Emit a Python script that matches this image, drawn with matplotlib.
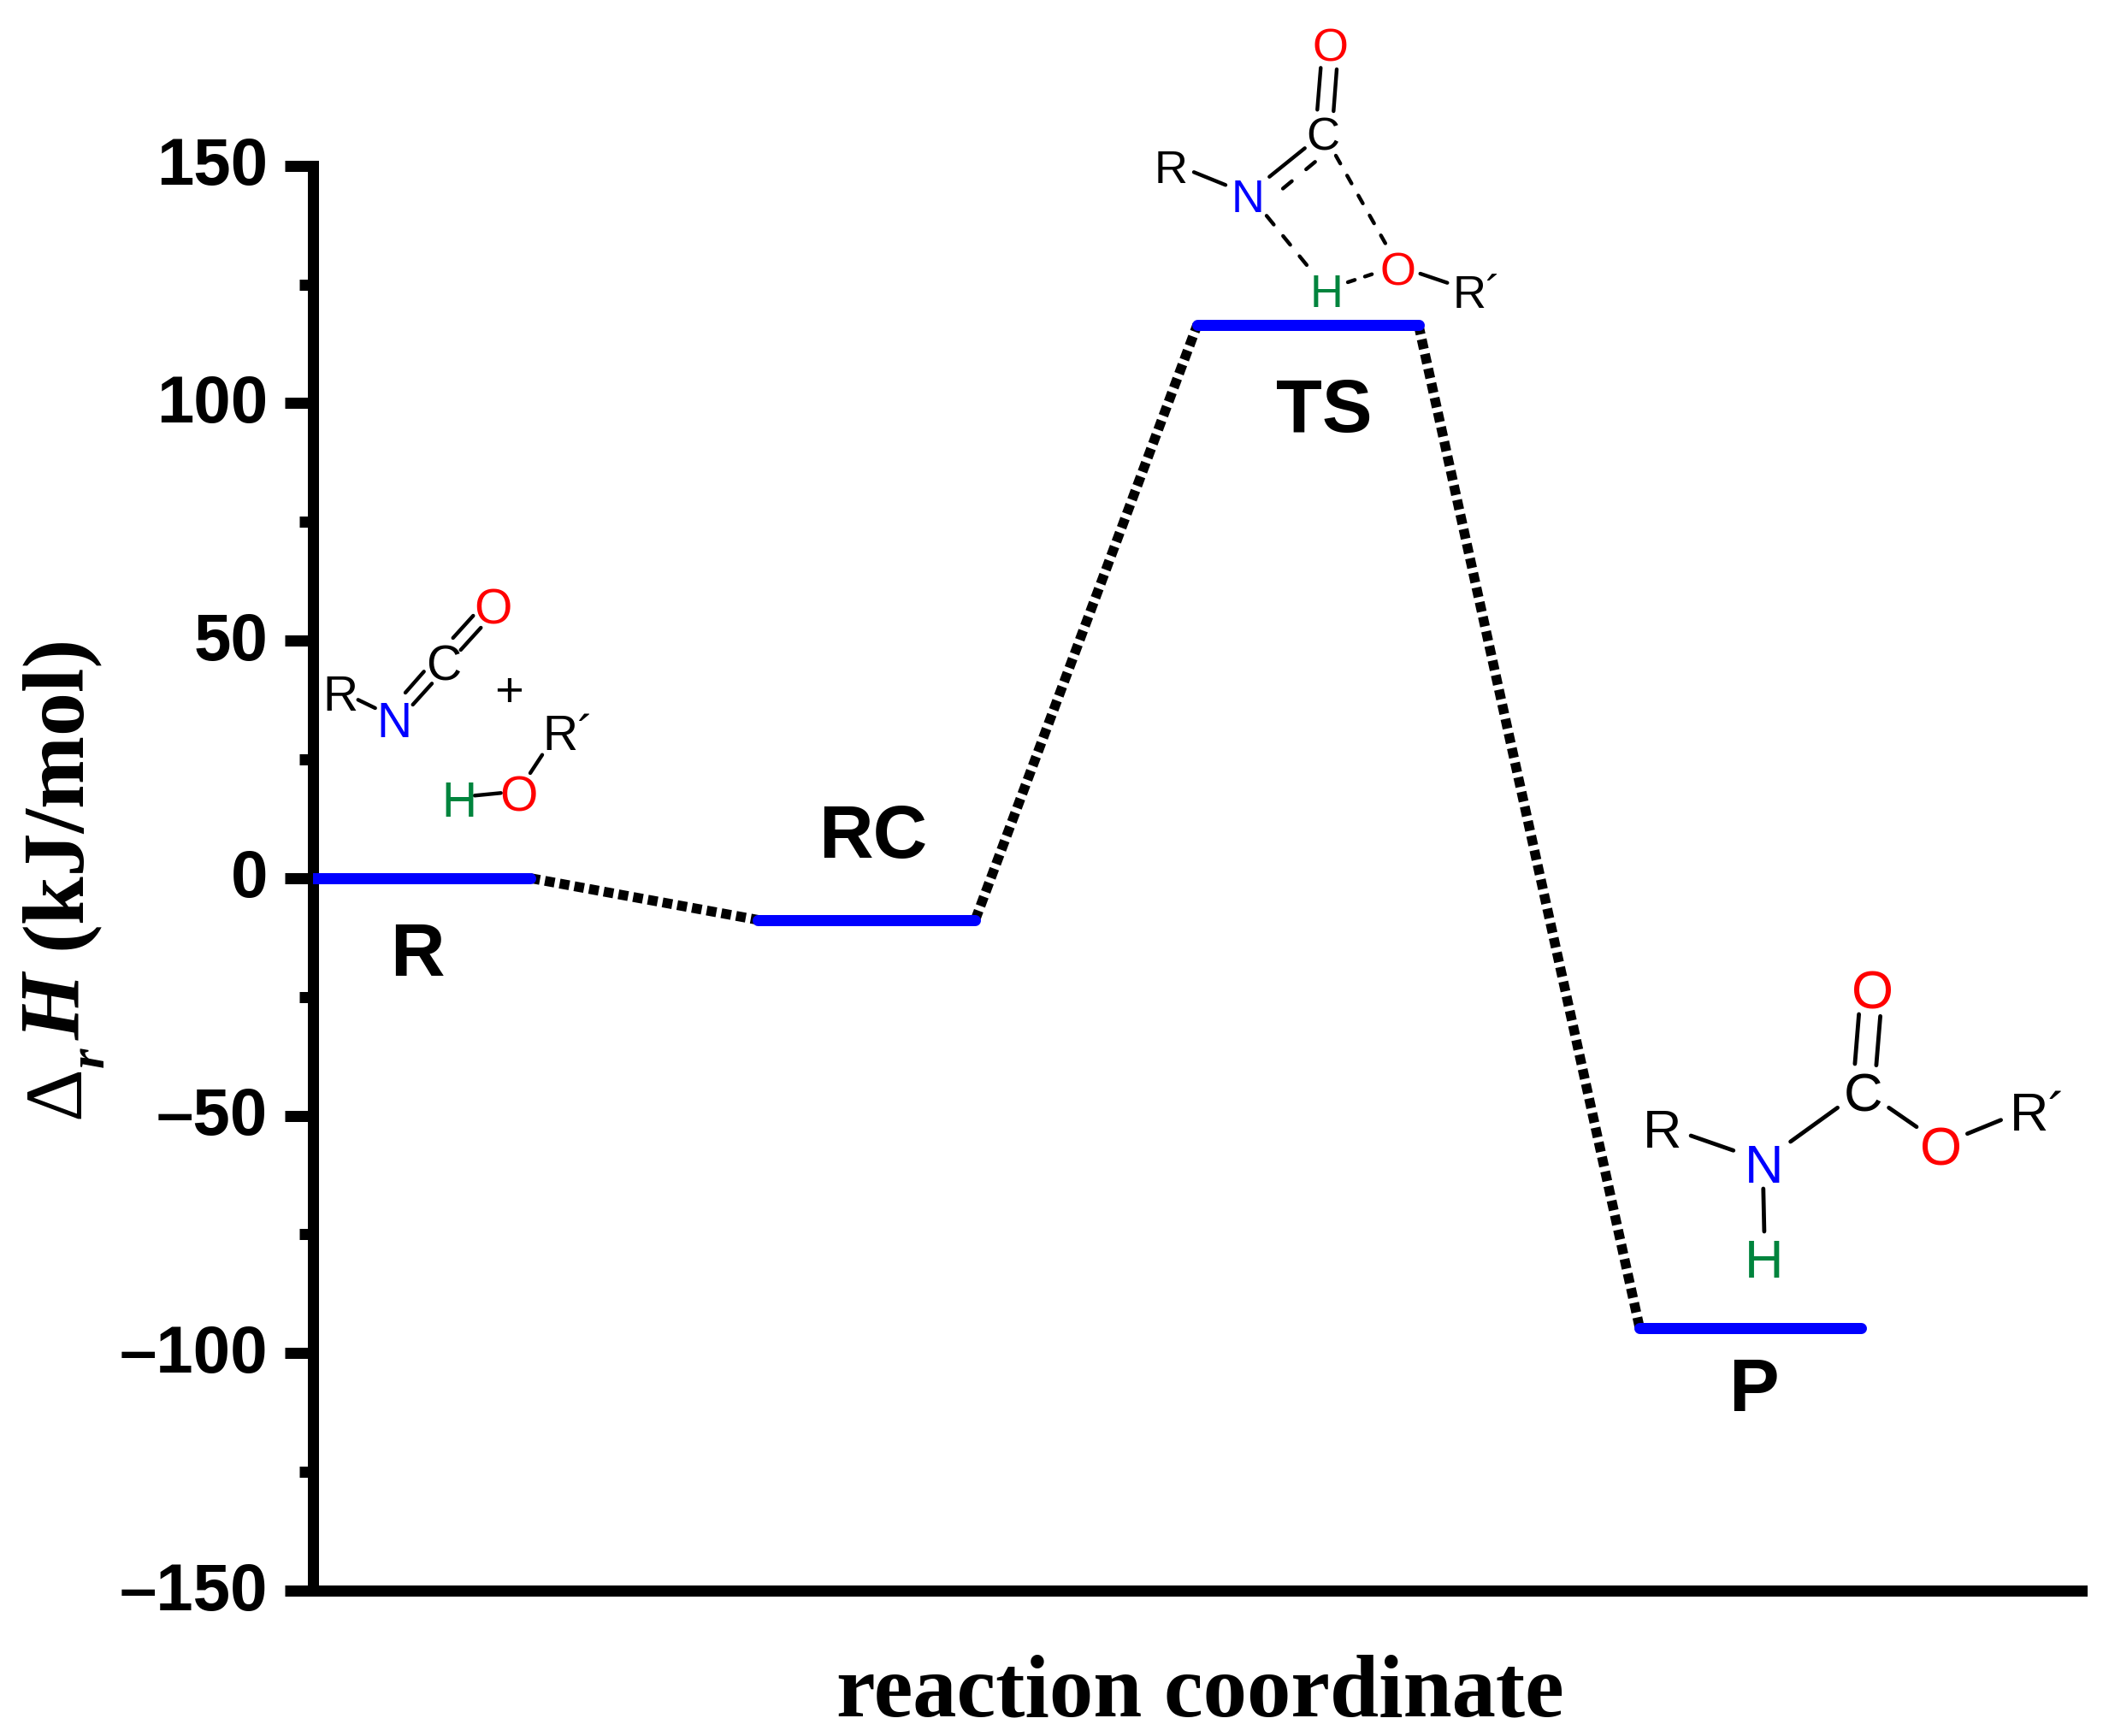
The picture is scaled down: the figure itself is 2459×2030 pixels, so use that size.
import math
import matplotlib
matplotlib.use('Agg')
import matplotlib.pyplot as plt
from matplotlib.lines import Line2D
from matplotlib.transforms import ScaledTranslation

W, H = 2459, 2030
PX = 0.72  # 1 px in points at dpi 100

# data
stages = ['R', 'RC', 'TS', 'P']
enthalpy = [0, -8.8, 116.5, -94.7]
x_start = [0, 25.18, 50.0, 75.0]
x_end = [12.3, 37.45, 62.5, 87.53]

y_major = [-150, -100, -50, 0, 50, 100, 150]
y_minor = [-125, -75, -25, 25, 75, 125]
y_labels = ['\u2013150', '\u2013100', '\u201350', '0', '50', '100', '150']

stage_label_x = [488, 1021, 1548, 2050]
stage_label_y = [1141, 1003, 505, 1650]

BLACK = '#000000'
BLUE = '#0000ff'
RED = '#ff0000'
GREEN = '#00843d'

plt.rcParams['font.family'] = ['Liberation Sans', 'DejaVu Sans']

fig = plt.figure(figsize=(W / 100, H / 100), dpi=100, facecolor='white')
ax = fig.add_axes([365.5 / W, 1 - 1860 / H, (2434.5 - 365.5) / W, (1860 - 193.7) / H])
ax.set_xlim(0, 100)
ax.set_ylim(-150, 150)
ax.patch.set_visible(False)

for s in ['top', 'right']:
    ax.spines[s].set_visible(False)
for s in ['left', 'bottom']:
    ax.spines[s].set_linewidth(13 * PX)

ax.set_xticks([])
ax.set_yticks(y_major)
ax.set_yticklabels(y_labels, fontsize=78 * PX, fontweight='bold', family='Liberation Sans')
ax.set_yticks(y_minor, minor=True)
ax.tick_params(axis='y', which='major', length=33.5 * PX, width=13 * PX, pad=19 * PX)
ax.tick_params(axis='y', which='minor', length=16.5 * PX, width=13 * PX)
# labels sit a little above their ticks in the original
shift = ScaledTranslation(0, 6 / 100, fig.dpi_scale_trans)
for t in ax.get_yticklabels():
    t.set_transform(t.get_transform() + shift)

# dotted connectors between the levels
for i in range(len(stages) - 1):
    ax.plot([x_end[i], x_start[i + 1]], [enthalpy[i], enthalpy[i + 1]], color=BLACK,
            lw=11.5 * PX, linestyle=(0, (1, 0.52)), zorder=2)

# levels
for i in range(len(stages)):
    ax.plot([x_start[i], x_end[i]], [enthalpy[i], enthalpy[i]], color=BLUE,
            lw=13 * PX, solid_capstyle='round', zorder=3)


def fx(x):
    return x / W


def fy(y):
    return 1 - y / H


def label(x, y, s, size, color=BLACK, ha='center', **kw):
    fig.text(fx(x), fy(y), s, fontsize=size * PX, color=color, ha=ha, va='baseline',
             rotation_mode='anchor', **kw)


def bond(x0, y0, x1, y1, lw=4.4, segs=1, seg=17):
    # segs > 1 gives a dashed bond with that many dashes of about seg px
    ls = '-'
    if segs > 1:
        length = math.hypot(x1 - x0, y1 - y0)
        gap = (length - segs * seg) / (segs - 1)
        ls = (0, ((seg - lw) / lw, (gap + lw) / lw))
    fig.add_artist(Line2D([fx(x0), fx(x1)], [fy(y0), fy(y1)], color=BLACK, lw=lw * PX,
                          linestyle=ls, solid_capstyle='round', dash_capstyle='round'))


for name, x, y in zip(stages, stage_label_x, stage_label_y):
    label(x, y, name, 88, fontweight='bold')

# axis titles
serif = 'Liberation Serif'
label(1403, 2007, 'reaction coordinate', 102.8, family=serif, fontweight='bold')
label(92.7, 1308, '\u0394', 96, ha='left', family=serif, rotation=90)
label(121, 1248, 'r', 60, ha='left', family=serif, fontweight='bold', style='italic', rotation=90)
label(92.7, 1216, 'H', 100, ha='left', family=serif, fontweight='bold', style='italic', rotation=90)
label(92.7, 1110, '(kJ/mol)', 102, ha='left', family=serif, fontweight='bold', rotation=90)

# TS structure
size = 54
label(1555.7, 71, 'O', size, RED)
label(1546.7, 176, 'C', size, BLACK)
label(1369, 214, 'R', size, BLACK)
label(1459, 248, 'N', size, BLUE)
label(1551, 359, 'H', size, GREEN)
label(1635, 333, 'O', size, RED)
label(1699, 360, 'R\u00b4', size, BLACK, ha='left')
bond(1544.3, 79.3, 1540.3, 128.3)
bond(1563, 81, 1559.3, 130)
bond(1525.7, 173.3, 1484.3, 206.7)
bond(1537.7, 189.3, 1496.7, 223.3, segs=2, seg=18)
bond(1396, 201.3, 1433, 216.3)
bond(1481, 252.3, 1530.7, 313.3, segs=3, seg=17.7)
bond(1562, 182, 1622, 288.3, segs=5, seg=15)
bond(1576, 330, 1608.3, 319.3, segs=2, seg=13)
bond(1660.7, 320, 1692.3, 330.7)

# reactants
size = 57
label(397.7, 830.7, 'R', size, BLACK)
label(460.7, 861.7, 'N', size, BLUE)
label(518.3, 795, 'C', size, BLACK)
label(576, 729, 'O', size, RED)
label(595.3, 826, '+', 58, BLACK)
label(634, 877.3, 'R\u00b4', size, BLACK, ha='left')
label(536.7, 955, 'H', size, GREEN)
label(606, 948.3, 'O', size, RED)
bond(418.7, 818.3, 438.7, 828)
bond(474, 810, 495.7, 785.3)
bond(482.7, 824, 505, 799.3)
bond(529.7, 746, 553.3, 720)
bond(538.7, 760, 562.3, 734)
bond(555, 930.3, 585.7, 927.3)
bond(620, 904, 634, 882.7)

# product
size = 63
label(2189, 1179, 'O', size, RED)
label(2178.6, 1300, 'C', size, BLACK)
label(1943.6, 1342.3, 'R', size, BLACK)
label(2062.5, 1382.7, 'N', size, BLUE)
label(2062.5, 1494.3, 'H', size, GREEN)
label(2270, 1362.7, 'O', size, RED)
label(2350, 1321.7, 'R\u00b4', size, BLACK, ha='left')
bond(2173.6, 1186, 2168.9, 1244, lw=4.8)
bond(2198.6, 1188.3, 2193.9, 1245.7, lw=4.8)
bond(2093.6, 1335, 2148.6, 1295.3, lw=4.8)
bond(2208.6, 1295.3, 2241, 1317.7, lw=4.8)
bond(2300.4, 1325.7, 2339.6, 1309.7, lw=4.8)
bond(1977.1, 1328, 2026.8, 1345.3, lw=4.8)
bond(2061.8, 1390, 2062.9, 1440, lw=4.8)

fig.savefig('out.png', dpi=100)
